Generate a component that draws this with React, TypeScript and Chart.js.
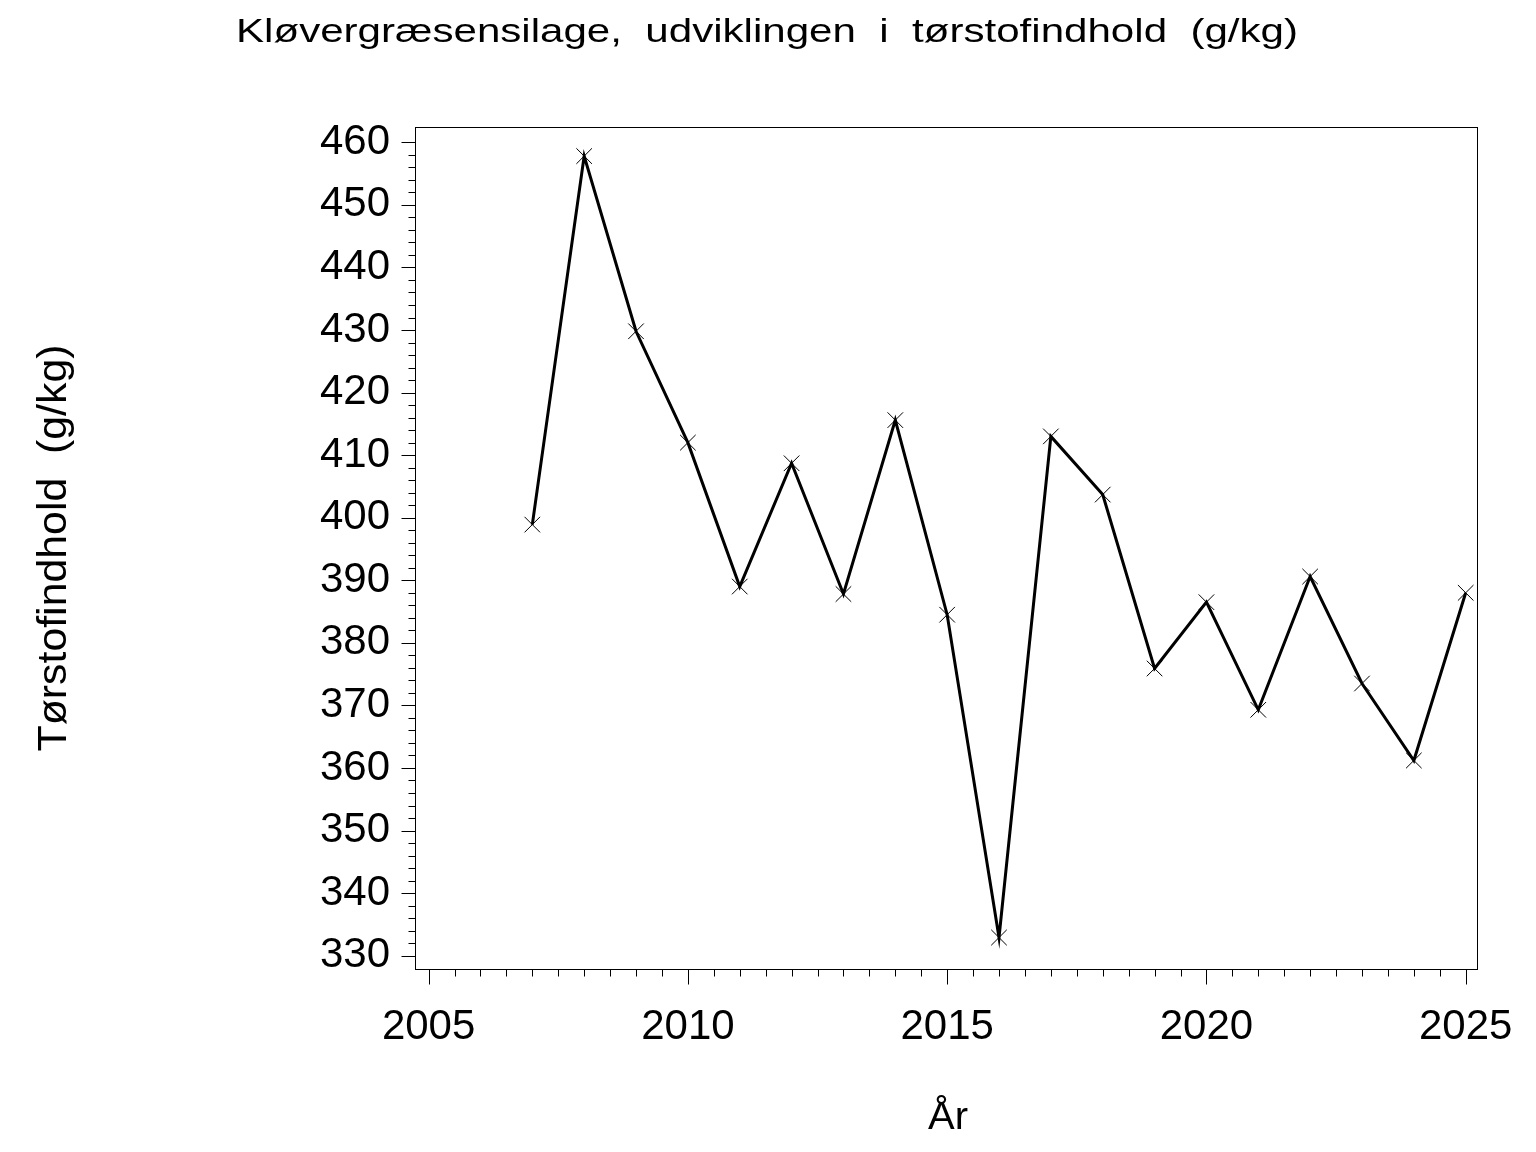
import React, { useEffect, useRef } from "react";
import { Chart, registerables } from "chart.js";

Chart.register(...registerables);

const years = [2007, 2008, 2009, 2010, 2011, 2012, 2013, 2014, 2015, 2016, 2017, 2018, 2019, 2020, 2021, 2022, 2023, 2024, 2025];
const dryMatter = [398.9, 457.8, 429.8, 412.0, 389.0, 408.7, 387.8, 415.6, 384.5, 332.9, 413.0, 403.7, 375.9, 386.5, 369.3, 390.6, 373.5, 361.2, 388.0];
const yTickValues = [330, 340, 350, 360, 370, 380, 390, 400, 410, 420, 430, 440, 450, 460];
const xTickValues = [2005, 2010, 2015, 2020, 2025];
const yMinorStep = 2;
const xMinorStep = 0.5;
const chartTitle = "Kløvergræsensilage,  udviklingen  i  tørstofindhold  (g/kg)";
const yAxisTitle = "Tørstofindhold  (g/kg)";
const xAxisTitle = "År";

const FONT = "'Liberation Sans', Arial, Helvetica, sans-serif";

function drawStretched(ctx: CanvasRenderingContext2D, text: string, targetWidth: number) {
  const w = ctx.measureText(text).width;
  const sx = targetWidth / w;
  ctx.save();
  ctx.scale(sx, 1);
  ctx.textAlign = "center";
  ctx.textBaseline = "alphabetic";
  ctx.fillText(text, 0, 0);
  ctx.restore();
}

const decorPlugin = {
  id: "decor",
  afterDraw(chart: any) {
    const ctx: CanvasRenderingContext2D = chart.ctx;
    const { left, right, top, bottom } = chart.chartArea;
    const xs = chart.scales.x;
    const ys = chart.scales.y;
    ctx.save();
    ctx.strokeStyle = "#000";
    ctx.lineWidth = 1;
    const L = Math.round(left) - 0.5;
    const R = Math.round(right) - 0.5;
    const T = Math.round(top) - 0.5;
    const B = Math.round(bottom) - 0.5;
    ctx.strokeRect(L, T, R - L, B - T);

    ctx.beginPath();
    const yFirst = yTickValues[0];
    const yLast = yTickValues[yTickValues.length - 1];
    for (let v = yFirst; v <= yLast + 1e-9; v += yMinorStep) {
      const major = yTickValues.includes(Math.round(v));
      const py = Math.round(ys.getPixelForValue(v)) + 0.5;
      const len = major ? 14 : 7;
      ctx.moveTo(L - len, py);
      ctx.lineTo(L, py);
    }
    const xFirst = xTickValues[0];
    const xLast = xTickValues[xTickValues.length - 1];
    for (let v = xFirst; v <= xLast + 1e-9; v += xMinorStep) {
      const major = xTickValues.includes(v);
      const px = Math.round(xs.getPixelForValue(v)) + 0.5;
      const len = major ? 15 : 7;
      ctx.moveTo(px, B);
      ctx.lineTo(px, B + len);
    }
    ctx.stroke();

    ctx.fillStyle = "#000";
    // main title
    ctx.font = `34px ${FONT}`;
    ctx.save();
    ctx.translate(chart.width / 2 - 1, 42);
    drawStretched(ctx, chartTitle, 1062);
    ctx.restore();

    // y title
    ctx.font = `41px ${FONT}`;
    ctx.save();
    ctx.translate(66, 548);
    ctx.rotate(-Math.PI / 2);
    drawStretched(ctx, yAxisTitle, 407);
    ctx.restore();

    // x title
    ctx.font = `38px ${FONT}`;
    ctx.save();
    ctx.translate((left + right) / 2 + 1, 1129);
    drawStretched(ctx, xAxisTitle, 40);
    ctx.restore();

    ctx.restore();
  },
};

export default function App() {
  const canvasRef = useRef<HTMLCanvasElement | null>(null);

  useEffect(() => {
    const canvas = canvasRef.current;
    if (!canvas) return;
    const chart = new Chart(canvas, {
      type: "scatter",
      data: {
        datasets: [
          {
            data: years.map((x, i) => ({ x, y: dryMatter[i] })),
            showLine: true,
            borderColor: "#000",
            borderWidth: 3,
            backgroundColor: "transparent",
            pointStyle: "crossRot",
            pointRadius: 11,
            pointHoverRadius: 11,
            pointBorderWidth: 1,
            pointBorderColor: "#000",
            pointBackgroundColor: "transparent",
            tension: 0,
          } as any,
        ],
      },
      options: {
        animation: false,
        responsive: false,
        maintainAspectRatio: false,
        devicePixelRatio: 1,
        events: [],
        layout: { padding: { left: 0, right: 58, top: 128, bottom: 0 } },
        plugins: {
          legend: { display: false },
          title: { display: false },
          tooltip: { enabled: false },
        },
        scales: {
          x: {
            type: "linear",
            min: 2004.757,
            max: 2025.237,
            grid: { display: false, drawTicks: false },
            border: { display: false },
            ticks: {
              color: "#000",
              font: { family: FONT, size: 42 },
              padding: 32,
              autoSkip: false,
              maxRotation: 0,
              callback: (v: any) => String(v),
            },
            afterBuildTicks: (s: any) => {
              s.ticks = xTickValues.map((value) => ({ value }));
            },
            afterFit: (s: any) => {
              s.height = 182;
              s.paddingLeft = 0;
              s.paddingRight = 0;
            },
          },
          y: {
            type: "linear",
            min: 327.71,
            max: 462.29,
            grid: { display: false, drawTicks: false },
            border: { display: false },
            ticks: {
              color: "#000",
              font: { family: FONT, size: 42 },
              padding: 26,
              autoSkip: false,
              callback: (v: any) => String(v),
            },
            afterBuildTicks: (s: any) => {
              s.ticks = yTickValues.map((value) => ({ value }));
            },
            afterFit: (s: any) => {
              s.width = 416;
              s.paddingTop = 0;
              s.paddingBottom = 0;
            },
          },
        },
      },
      plugins: [decorPlugin],
    });
    return () => chart.destroy();
  }, []);

  return (
    <div style={{ position: "absolute", left: 0, top: 0, width: 1536, height: 1152, background: "#fff" }}>
      <canvas ref={canvasRef} width={1536} height={1152} style={{ display: "block", width: 1536, height: 1152 }} />
    </div>
  );
}
